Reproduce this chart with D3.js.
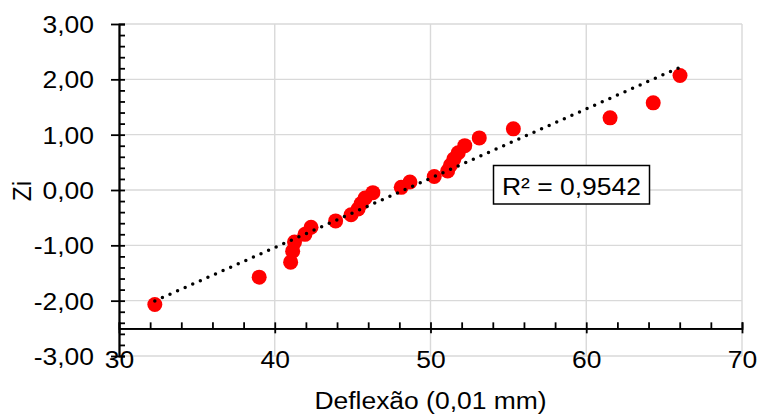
<!DOCTYPE html>
<html>
<head>
<meta charset="utf-8">
<script src="https://cdn.jsdelivr.net/npm/d3@7"></script>
<style>
  html, body { margin: 0; padding: 0; background: #fff; }
  svg { display: block; font-family: "Liberation Sans", Arial, sans-serif; }
</style>
</head>
<body>
<svg id="chart" width="758" height="414"></svg>
<script>
// Deflection readings (0,01 mm) and their normal scores Zi
const deflexao = [32.3, 39.0, 41.02, 41.15, 41.27, 41.94, 42.33, 43.91, 44.9, 45.35, 45.55, 45.8, 46.3,
                  48.12, 48.68, 50.24, 51.1, 51.28, 51.5, 51.78, 52.2, 53.13, 55.32, 61.53, 64.3, 66.02];
const zi = [-2.07, -1.575, -1.304, -1.105, -0.942, -0.801, -0.674, -0.558, -0.448, -0.344, -0.243, -0.145, -0.048,
            0.048, 0.145, 0.243, 0.344, 0.448, 0.558, 0.674, 0.801, 0.942, 1.105, 1.304, 1.575, 2.07];
const xTicks = [30, 40, 50, 60, 70];
const yTicks = [-3, -2, -1, 0, 1, 2, 3];
const r2Label = "R² = 0,9542";
const xTitle = "Deflexão (0,01 mm)";
const yTitle = "Zi";

const SX = 1.08;          // horizontal text stretch
const FONT = 24.5;

const svg = d3.select("#chart");
const x = d3.scaleLinear().domain([30, 70]).range([119, 742]);
const y = d3.scaleLinear().domain([-3, 3]).range([356, 24]);
const axisY = -2.5;       // horizontal axis crosses here

const loc = d3.formatLocale({decimal: ",", thousands: ".", grouping: [3], currency: ["", ""], minus: "-"});
const fmtY = loc.format(".2f");

// Gridlines
const grid = svg.append("g").attr("stroke", "#d9d9d9").attr("stroke-width", 1.4);
grid.selectAll("line.h").data(yTicks).join("line")
  .attr("x1", x(30)).attr("x2", x(70))
  .attr("y1", d => y(d)).attr("y2", d => y(d));
grid.selectAll("line.v").data(xTicks.slice(1)).join("line")
  .attr("y1", y(3)).attr("y2", y(-3))
  .attr("x1", d => x(d)).attr("x2", d => x(d));

// Trendline (least squares)
const mx = d3.mean(deflexao), my = d3.mean(zi);
const sxy = d3.sum(deflexao, (d, i) => (d - mx) * (zi[i] - my));
const sxx = d3.sum(deflexao, d => (d - mx) ** 2);
const slope = sxy / sxx, icpt = my - slope * mx;
const [x0, x1] = d3.extent(deflexao);

// Points
svg.append("g").selectAll("circle").data(deflexao).join("circle")
  .attr("cx", d => x(d)).attr("cy", (d, i) => y(zi[i]))
  .attr("r", 7.5).attr("fill", "#ff0000");

svg.append("line")
  .attr("x1", x(x0)).attr("y1", y(slope * x0 + icpt))
  .attr("x2", x(x1)).attr("y2", y(slope * x1 + icpt))
  .attr("stroke", "#000").attr("stroke-width", 3.5)
  .attr("stroke-linecap", "round").attr("stroke-dasharray", "0 8.3");

// Y axis: labels with left half of major ticks, minor ticks to the right
const yAxL = svg.append("g").attr("transform", `translate(${x(30)},0)`)
  .call(d3.axisLeft(y).tickValues(yTicks).tickSizeInner(8).tickSizeOuter(0).tickFormat(fmtY));
svg.append("g").attr("transform", `translate(${x(30)},0)`)
  .call(d3.axisRight(y).tickValues(d3.range(-15, 16).map(v => v / 5)).tickSize(6).tickFormat(""));

// X axis: minor ticks above, major ticks below
svg.append("g").attr("transform", `translate(0,${y(axisY)})`)
  .call(d3.axisTop(x).tickValues(d3.range(15, 36).map(v => v * 2)).tickSize(6).tickFormat(""));
const xAx = svg.append("g").attr("transform", `translate(0,${y(axisY)})`)
  .call(d3.axisBottom(x).tickValues(xTicks).tickSizeInner(5).tickSizeOuter(0).tickFormat(d3.format("d")));

svg.selectAll(".domain, .tick line").attr("stroke", "#000").attr("stroke-width", 1.8);

yAxL.selectAll("text")
  .attr("x", -25 / SX).attr("dy", "0.35em")
  .attr("transform", `scale(${SX},1)`)
  .attr("font-size", FONT).attr("fill", "#000").attr("font-family", null);
xAx.selectAll("text")
  .attr("y", 368.5 - y(axisY)).attr("dy", 0)
  .attr("transform", `scale(${SX},1)`)
  .attr("font-size", FONT).attr("fill", "#000").attr("font-family", null);

// Stretched text helper
function label(x0, y0, str, anchor, rot) {
  const g = svg.append("g").attr("transform", `translate(${x0},${y0})` + (rot ? ` rotate(${rot})` : "") + (rot ? ` scale(1,${SX})` : ` scale(${SX},1)`));
  g.append("text").attr("text-anchor", anchor).attr("font-size", FONT).attr("fill", "#000").text(str);
  return g;
}

label(430.5, 409, xTitle, "middle");
label(31, 191, yTitle, "middle", -90);

// R² box
svg.append("rect").attr("x", 493.5).attr("y", 165.5).attr("width", 156).attr("height", 38.5)
  .attr("fill", "#fff").attr("stroke", "#000").attr("stroke-width", 1.5);
label(502, 194.5, r2Label, "start");
</script>
</body>
</html>
